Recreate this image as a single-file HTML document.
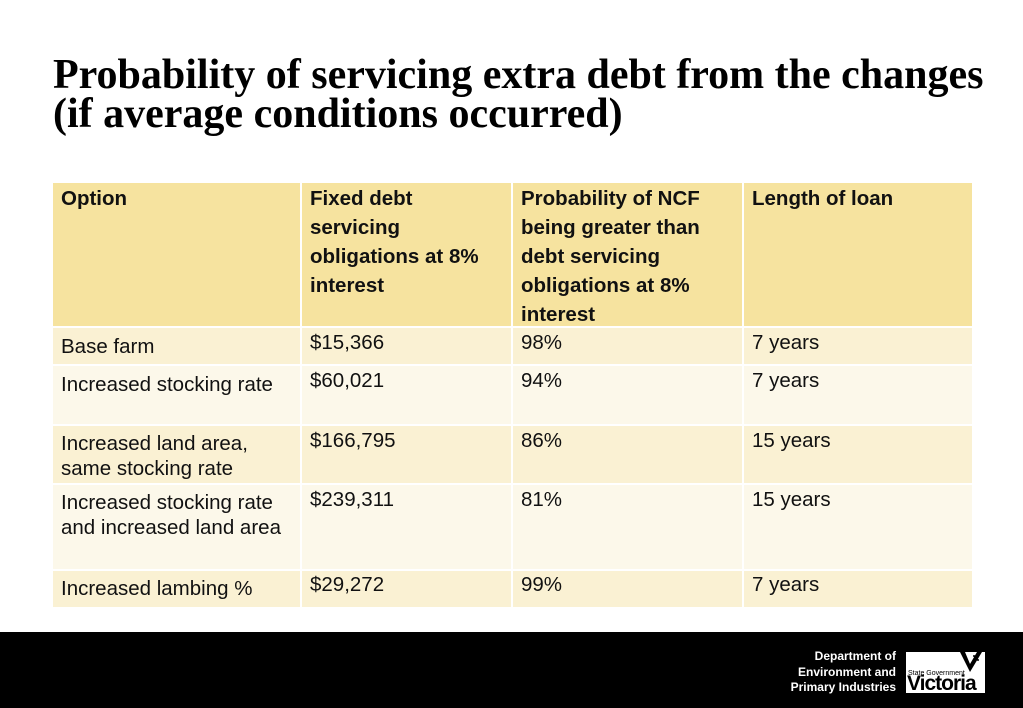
<!DOCTYPE html>
<html><head><meta charset="utf-8"><style>
body{margin:0;width:1023px;height:708px;background:#fff;position:relative;overflow:hidden;font-family:"Liberation Sans",sans-serif}
h1{position:absolute;left:53px;top:56px;margin:0;font-family:"Liberation Serif",serif;font-weight:bold;font-size:42px;line-height:39px;color:#000;white-space:nowrap}
.c{position:absolute;box-sizing:border-box;padding:4px 8px;font-size:20.5px;color:#111}
.h{background:#f6e39f;font-weight:bold;line-height:29px;padding-top:1px;padding-right:24px}
.o{background:#faf1d3;line-height:25px}
.e{background:#fcf8ea;line-height:25px}
.w{padding-right:10px}
.foot{position:absolute;left:0;top:632px;width:1023px;height:76px;background:#000}
</style></head><body>
<h1>Probability of servicing extra debt from the changes<br>(if average conditions occurred)</h1>
<div>
<div class="c h" style="left:53px;top:183px;width:247px;height:143px">Option</div>
<div class="c h" style="left:302px;top:183px;width:209px;height:143px">Fixed debt servicing obligations at 8% interest</div>
<div class="c h" style="left:513px;top:183px;width:229px;height:143px">Probability of NCF being greater than debt servicing obligations at 8% interest</div>
<div class="c h" style="left:744px;top:183px;width:228px;height:143px">Length of loan</div>

<div class="c o w" style="left:53px;top:328px;width:247px;height:36px;padding-top:6px">Base farm</div>
<div class="c o" style="left:302px;top:328px;width:209px;height:36px;padding-top:2px">$15,366</div>
<div class="c o" style="left:513px;top:328px;width:229px;height:36px;padding-top:2px">98%</div>
<div class="c o" style="left:744px;top:328px;width:228px;height:36px;padding-top:2px">7 years</div>

<div class="c e w" style="left:53px;top:366px;width:247px;height:58px;padding-top:6px">Increased stocking rate</div>
<div class="c e" style="left:302px;top:366px;width:209px;height:58px;padding-top:2px">$60,021</div>
<div class="c e" style="left:513px;top:366px;width:229px;height:58px;padding-top:2px">94%</div>
<div class="c e" style="left:744px;top:366px;width:228px;height:58px;padding-top:2px">7 years</div>

<div class="c o w" style="left:53px;top:426px;width:247px;height:57px;padding-top:5px">Increased land area,<br>same stocking rate</div>
<div class="c o" style="left:302px;top:426px;width:209px;height:57px;padding-top:2px">$166,795</div>
<div class="c o" style="left:513px;top:426px;width:229px;height:57px;padding-top:2px">86%</div>
<div class="c o" style="left:744px;top:426px;width:228px;height:57px;padding-top:2px">15 years</div>

<div class="c e w" style="left:53px;top:485px;width:247px;height:84px;padding-top:5px">Increased stocking rate<br>and increased land area</div>
<div class="c e" style="left:302px;top:485px;width:209px;height:84px;padding-top:2px">$239,311</div>
<div class="c e" style="left:513px;top:485px;width:229px;height:84px;padding-top:2px">81%</div>
<div class="c e" style="left:744px;top:485px;width:228px;height:84px;padding-top:2px">15 years</div>

<div class="c o w" style="left:53px;top:571px;width:247px;height:36px;padding-top:5px">Increased lambing %</div>
<div class="c o" style="left:302px;top:571px;width:209px;height:36px;padding-top:1px">$29,272</div>
<div class="c o" style="left:513px;top:571px;width:229px;height:36px;padding-top:1px">99%</div>
<div class="c o" style="left:744px;top:571px;width:228px;height:36px;padding-top:1px">7 years</div>
</div>
<div class="foot">
<div style="position:absolute;right:127px;top:17px;color:#fff;font-size:12px;line-height:15.5px;text-align:right;font-weight:bold">Department of<br>Environment and<br>Primary Industries</div>
<div style="position:absolute;left:906px;top:20px;width:79px;height:41px;background:#fff;color:#000">
<div style="position:absolute;left:2px;top:18px;font-size:7px">State Government</div>
<div style="position:absolute;left:1px;top:22px;font-size:21px;font-weight:bold;line-height:20px;letter-spacing:-1px">Victoria</div>
<svg style="position:absolute;left:52px;top:0" width="26" height="22"><path d="M2 0 L12 20 L24 0 L19 0 L12 12 L7 0Z" fill="#000"/><circle cx="16" cy="4" r="1" fill="#000"/><circle cx="20" cy="8" r="1" fill="#000"/></svg>
</div>
</div>
</body></html>
